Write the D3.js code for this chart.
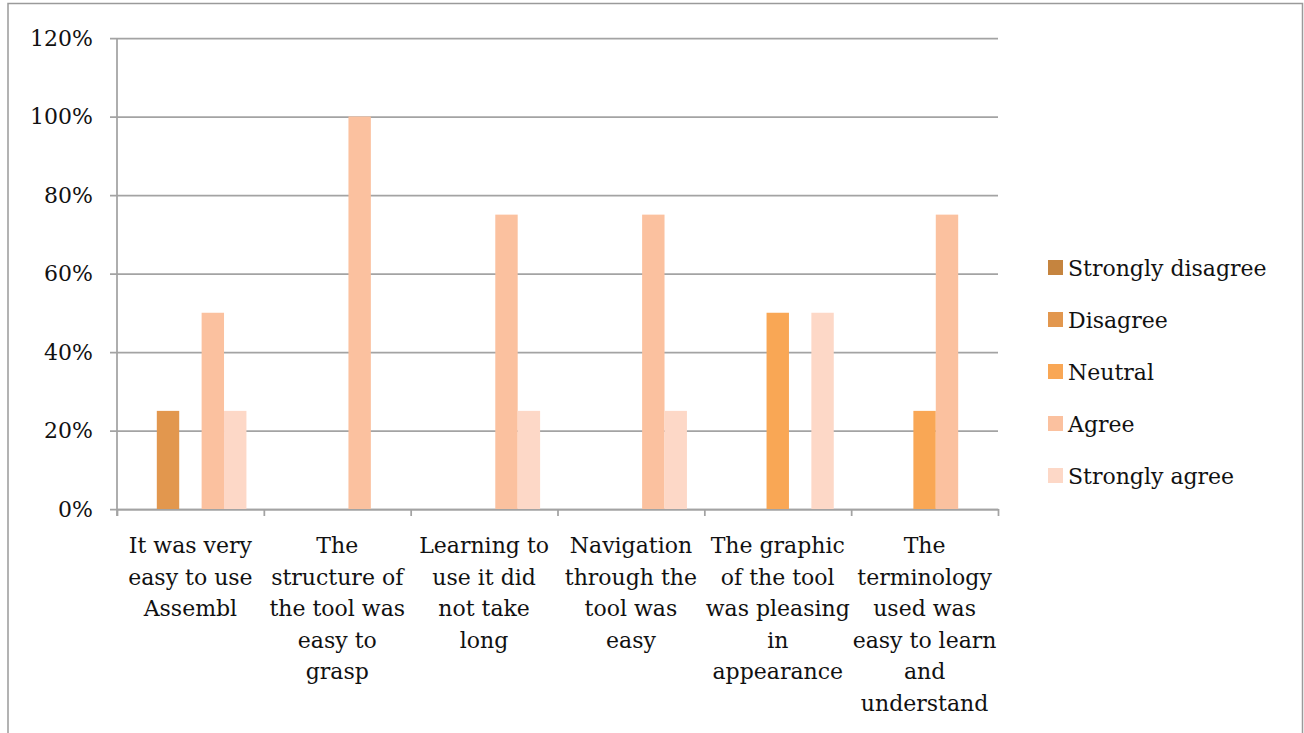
<!DOCTYPE html>
<html>
<head>
<meta charset="utf-8">
<script src="https://cdn.jsdelivr.net/npm/d3@7"></script>
<style>
  body { margin: 0; background: #fff; }
  text { font-family: "DejaVu Serif", serif; fill: #111; }
</style>
</head>
<body>
<div id="chart"></div>
<script>
var categories = [
  ["It was very", "easy to use", "Assembl"],
  ["The", "structure of", "the tool was", "easy to", "grasp"],
  ["Learning to", "use it did", "not take", "long"],
  ["Navigation", "through the", "tool was", "easy"],
  ["The graphic", "of the tool", "was pleasing", "in", "appearance"],
  ["The", "terminology", "used was", "easy to learn", "and", "understand"]
];
var seriesNames = ["Strongly disagree", "Disagree", "Neutral", "Agree", "Strongly agree"];
var seriesColors = ["#c5843f", "#e2974e", "#f9a755", "#fbc19f", "#fdd8c7"];
// one array per series, values in % per category
var stronglyDisagree = [0, 0, 0, 0, 0, 0];
var disagree = [25, 0, 0, 0, 0, 0];
var neutral = [0, 0, 0, 0, 50, 25];
var agree = [50, 100, 75, 75, 0, 75];
var stronglyAgree = [25, 0, 25, 25, 50, 0];
var seriesValues = [stronglyDisagree, disagree, neutral, agree, stronglyAgree];
var yTicks = [0, 20, 40, 60, 80, 100, 120];

var width = 1304, height = 733;
var pLeft = 117, pRight = 998, pTop = 38, pBottom = 509;

var svg = d3.select("#chart").append("svg")
  .attr("width", width)
  .attr("height", height);

// outer frame, open at the bottom
svg.append("path")
  .attr("d", "M8,740 L8,3.5 L1302.5,3.5 L1302.5,740")
  .attr("fill", "none")
  .attr("stroke", "#9a9a9a")
  .attr("stroke-width", 1.5);

var y = d3.scaleLinear().domain([0, 120]).range([pBottom, pTop]);
var idx = d3.range(categories.length);
var x0 = d3.scaleBand().domain(idx).range([pLeft, pRight]);
var edge = d3.scaleLinear().domain([0, categories.length]).range([pLeft, pRight]);
var pad = 17.4;
var x1 = d3.scaleBand().domain(d3.range(seriesNames.length))
  .range([pad, x0.bandwidth() - pad]);

var grid = "#a3a3a3";

// y axis with grid lines
var yAxis = svg.append("g")
  .attr("transform", "translate(" + pLeft + ",0)")
  .call(d3.axisLeft(y).tickValues(yTicks)
    .tickSize(-(pRight - pLeft)).tickSizeOuter(0)
    .tickFormat(function (d) { return d + "%"; }));
yAxis.select(".domain").remove();
yAxis.selectAll(".tick line")
  .attr("x1", -7)
  .attr("stroke", grid).attr("stroke-width", 1.75);
yAxis.selectAll(".tick text")
  .attr("x", -24)
  .style("font-family", "DejaVu Serif")
  .style("font-size", "22px")
  .attr("fill", "#111");

// vertical axis line
svg.append("line")
  .attr("x1", pLeft).attr("x2", pLeft)
  .attr("y1", pTop).attr("y2", pBottom + 7)
  .attr("stroke", grid).attr("stroke-width", 1.75);

// x axis boundary ticks
var xAxis = svg.append("g")
  .attr("transform", "translate(0," + pBottom + ")")
  .call(d3.axisBottom(edge).tickValues(d3.range(categories.length + 1))
    .tickSize(7).tickSizeOuter(0).tickFormat(""));
xAxis.select(".domain").attr("stroke", grid).attr("stroke-width", 1.75);
xAxis.selectAll(".tick line").attr("stroke", grid).attr("stroke-width", 1.75);

// bars
var groups = svg.selectAll(".cat")
  .data(idx)
  .enter().append("g")
  .attr("class", "cat")
  .attr("transform", function (i) { return "translate(" + x0(i) + ",0)"; });

groups.selectAll("rect")
  .data(function (i) {
    return seriesValues.map(function (vals, s) { return { s: s, v: vals[i] }; })
      .filter(function (d) { return d.v > 0; });
  })
  .enter().append("rect")
  .attr("x", function (d) { return x1(d.s); })
  .attr("width", x1.bandwidth())
  .attr("y", function (d) { return y(d.v); })
  .attr("height", function (d) { return pBottom - y(d.v); })
  .attr("fill", function (d) { return seriesColors[d.s]; });

// category labels
var lineH = 31.6;
svg.selectAll(".catlabel")
  .data(idx)
  .enter().append("text")
  .attr("class", "catlabel")
  .attr("text-anchor", "middle")
  .style("font-size", "22px")
  .attr("transform", function (i) {
    return "translate(" + (x0(i) + x0.bandwidth() / 2) + ",553)";
  })
  .selectAll("tspan")
  .data(function (i) { return categories[i]; })
  .enter().append("tspan")
  .attr("x", 0)
  .attr("y", function (d, k) { return k * lineH; })
  .text(function (d) { return d; });

// legend
var legend = svg.selectAll(".leg")
  .data(seriesNames)
  .enter().append("g")
  .attr("class", "leg")
  .attr("transform", function (d, i) { return "translate(1048," + (268 + i * 52) + ")"; });
legend.append("rect")
  .attr("x", 0).attr("y", -8)
  .attr("width", 15).attr("height", 15)
  .attr("fill", function (d, i) { return seriesColors[i]; });
legend.append("text")
  .attr("x", 20).attr("y", 8)
  .style("font-size", "22px")
  .text(function (d) { return d; });
</script>
</body>
</html>
